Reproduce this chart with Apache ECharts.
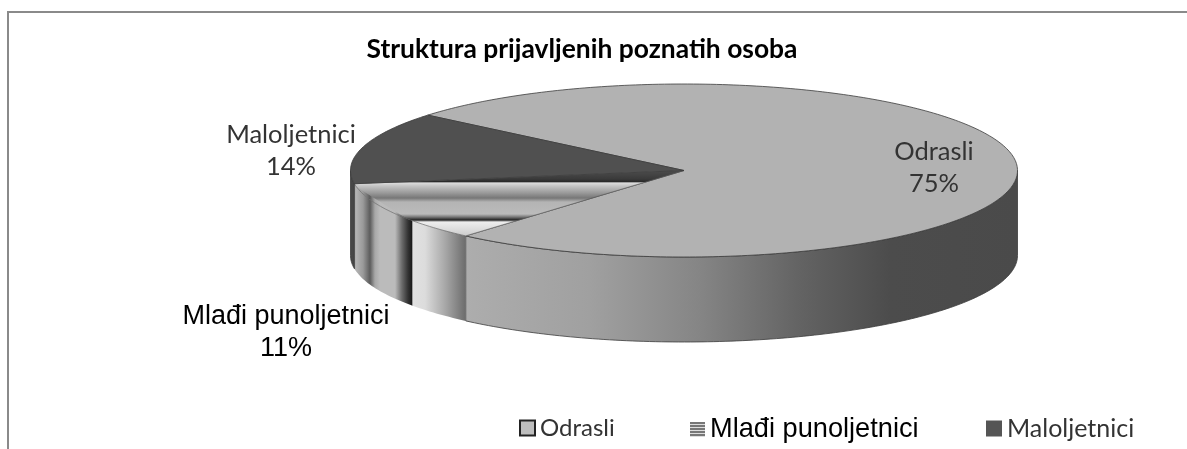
<!DOCTYPE html>
<html>
<head>
<meta charset="utf-8">
<style>html,body{margin:0;padding:0;background:#fff}#c{width:1187px;height:449px}</style>
<script src="https://cdn.jsdelivr.net/npm/echarts@6/dist/echarts.min.js"></script>
</head>
<body>
<div id="c"></div>
<script>
const titleText = 'Struktura prijavljenih poznatih osoba';
const categories = ['Odrasli', 'Mlađi punoljetnici', 'Maloljetnici'];
const values = [75.3, 11.2, 13.5];

// layout of the tilted pie
const CX = 684, CY = 170.5, RX = 333.5, RY = 86.5, DEPTH = 85, START_ANGLE = 140.2;
const labelPos = [[934, 167.5], [286, 332.5], [291, 151]];
const BAND_FONT = 'Liberation Sans', BODY_FONT = 'Lato';

const G = echarts.graphic.LinearGradient;
function grad(stops, horizontal) {
  const a = stops[0][0], b = stops[stops.length - 1][0];
  const cs = stops.map(s => ({ offset: (s[0] - a) / (b - a), color: s[1] }));
  return horizontal ? new G(a, 0, b, 0, cs, true) : new G(0, a, 0, b, cs, true);
}
const xBands = [[349,'#4a4a4a'],[352,'#777'],[356,'#b4b4b4'],[363,'#9a9a9a'],[370,'#5c5c5c'],[375,'#a8a8a8'],[380,'#bbb'],[395,'#bbb'],[402,'#6a6a6a'],[408,'#333'],[411.5,'#1c1c1c'],[413,'#e0e0e0'],[425,'#dcdcdc'],[445,'#a8a8a8'],[465,'#6e6e6e']];
const yBands = [[170,'#4e4e4e'],[179,'#3a3a3a'],[181.5,'#2a2a2a'],[183,'#dcdcdc'],[186,'#c4c4c4'],[193,'#999'],[198,'#777'],[202,'#b4b4b4'],[214,'#bbb'],[217,'#777'],[220,'#222'],[222,'#eee'],[236,'#ccc']];
const odrasliWall = [[465,'#adadad'],[590,'#a0a0a0'],[700,'#858585'],[800,'#636363'],[890,'#4c4c4c'],[1018,'#4a4a4a']];
const tops = ['#b2b2b2', grad(xBands, true), '#505050'];
const walls = [grad(odrasliWall, true), grad(xBands, true), '#474747'];
const labelStyles = [
  { font: BODY_FONT, size: 25.5, color: '#333' },
  { font: BAND_FONT, size: 27, color: '#000' },
  { font: BODY_FONT, size: 25.5, color: '#333' }
];

const total = values.reduce((a, b) => a + b, 0);
function pt(deg, dy) {
  const r = deg * Math.PI / 180;
  return [CX + RX * Math.cos(r), CY - RY * Math.sin(r) + (dy || 0)];
}
function arc(a, b, dy) {
  const n = Math.max(2, Math.ceil(Math.abs(a - b)));
  const out = [];
  for (let i = 0; i <= n; i++) out.push(pt(a + (b - a) * i / n, dy));
  return out;
}
// keeps the part of a polygon above the corner diagonal of the rectangular gradient
function clipAbove(poly) {
  const f = p => p[1] - (183 + (p[0] - 350) * 0.63);
  const out = [];
  for (let i = 0; i < poly.length; i++) {
    const p = poly[i], q = poly[(i + 1) % poly.length];
    const fp = f(p), fq = f(q);
    if (fp <= 0) out.push(p);
    if ((fp < 0 && fq > 0) || (fp > 0 && fq < 0)) {
      const t = fp / (fp - fq);
      out.push([p[0] + (q[0] - p[0]) * t, p[1] + (q[1] - p[1]) * t]);
    }
  }
  return out;
}
const LINE = '#3c3c3c';
function sliceRenderer(idx) {
  return function () {
    const before = values.slice(0, idx).reduce((a, b) => a + b, 0);
    const hi = START_ANGLE - before / total * 360;
    const lo = hi - values[idx] / total * 360;
    const children = [];
    const wHi = Math.min(hi, 0), wLo = Math.max(lo, -180);
    if (wHi > wLo) {
      const pts = arc(wHi, wLo, 0).concat(arc(wLo, wHi, DEPTH));
      children.push({ type: 'polygon', shape: { points: pts },
        style: { fill: walls[idx], stroke: idx === 1 ? null : LINE, lineWidth: 0.8 } });
    }
    const top = [[CX, CY]].concat(arc(hi, lo, 0));
    children.push({ type: 'polygon', shape: { points: top },
      style: { fill: tops[idx], stroke: idx === 1 ? null : LINE, lineWidth: 0.8 } });
    if (idx === 1) {
      children.push({ type: 'polygon', shape: { points: clipAbove(top) }, style: { fill: grad(yBands, false) } });
      children.push({ type: 'polygon', shape: { points: top }, style: { fill: 'none', stroke: '#555', lineWidth: 0.6 } });
    }
    const ls = labelStyles[idx];
    children.push({ type: 'text', z2: 50, style: {
      x: labelPos[idx][0], y: labelPos[idx][1], align: 'center', verticalAlign: 'middle',
      text: categories[idx] + '\n' + Math.round(values[idx]) + '%',
      fontFamily: ls.font, fontSize: ls.size, lineHeight: 32, fill: ls.color
    } });
    return { type: 'group', children };
  };
}

const stripeStops = [];
for (let i = 0; i < 5; i++) {
  stripeStops.push({ offset: i / 5, color: '#777' }, { offset: (i + 0.5) / 5, color: '#777' },
                   { offset: (i + 0.5) / 5, color: '#ddd' }, { offset: (i + 1) / 5, color: '#ddd' });
}
const legendCfg = [
  { left: 519, font: BODY_FONT, size: 24, color: '#333', w: 15,
    style: { color: '#bdbdbd', borderColor: '#222', borderWidth: 2 } },
  { left: 690, font: BAND_FONT, size: 27.2, color: '#000', w: 15,
    style: { color: new G(0, 0, 0, 1, stripeStops) } },
  { left: 986, font: BODY_FONT, size: 25, color: '#333', w: 16,
    style: { color: '#555' } }
];

const chart = echarts.init(document.getElementById('c'), null, { renderer: 'canvas' });
chart.setOption({
  animation: false,
  backgroundColor: '#fff',
  title: {
    text: titleText, left: 577, top: 31, textAlign: 'center',
    textStyle: { fontFamily: BODY_FONT, fontWeight: 'bold', fontSize: 26.4, color: '#000' }
  },
  legend: categories.map((c, i) => ({
    left: legendCfg[i].left, top: 416, padding: 0, itemWidth: legendCfg[i].w, itemHeight: legendCfg[i].w, itemGap: 0,
    selectedMode: false,
    data: [{ name: c, icon: 'rect', itemStyle: legendCfg[i].style,
      textStyle: { fontFamily: legendCfg[i].font, fontSize: legendCfg[i].size, color: legendCfg[i].color } }]
  })),
  graphic: [{ type: 'polyline', silent: true,
    shape: { points: [[8, 449], [8, 12], [1187, 12]] },
    style: { fill: 'none', stroke: '#8a8a8a', lineWidth: 2 } }],
  series: categories.map((c, i) => ({
    type: 'custom', name: c, coordinateSystem: 'none', silent: true,
    data: [values[i]], renderItem: sliceRenderer(i)
  }))
});
</script>
</body>
</html>
